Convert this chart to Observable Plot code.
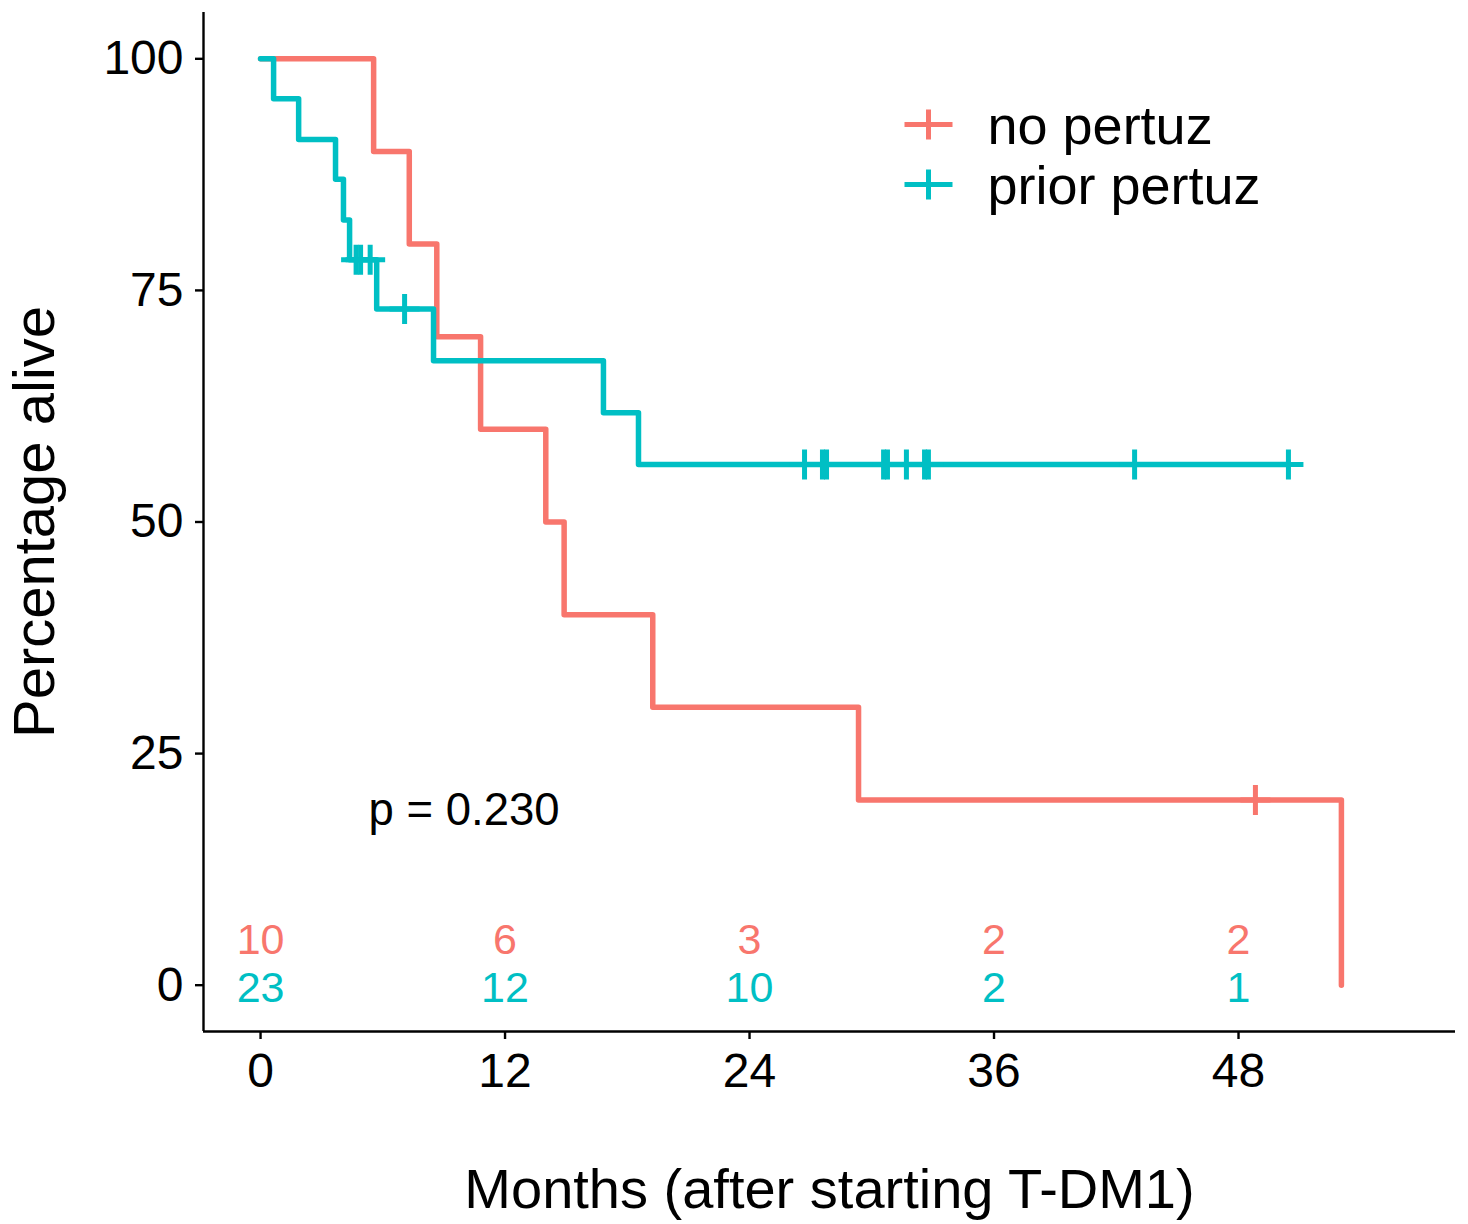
<!DOCTYPE html>
<html>
<head>
<meta charset="utf-8">
<script src="https://cdn.jsdelivr.net/npm/d3@7"></script>
<script src="https://cdn.jsdelivr.net/npm/@observablehq/plot@0.6"></script>
<style>
  html, body { margin: 0; padding: 0; background: #fff; }
  #chart { width: 1468px; height: 1224px; }
</style>
</head>
<body>
<div id="chart"></div>
<script>
// ---- data ----
const groups = ["no pertuz", "prior pertuz"];
const colors = ["#F8766D", "#00BFC4"];

// Kaplan–Meier step points (months, percentage alive)
const noTimes  = [0, 5.55, 7.3, 8.65, 10.8, 14.0, 14.9, 19.25, 29.35, 53.05];
const noSurv   = [100, 90, 80, 70, 60, 50, 40, 30, 20, 0];
const priorTimes = [0, 0.64, 1.87, 3.68, 4.07, 4.37, 5.7, 8.49, 16.83, 18.55, 50.45];
const priorSurv  = [100, 95.7, 91.3, 87.0, 82.6, 78.3, 73.0, 67.4, 61.8, 56.2, 56.2];

// censoring marks
const noCensorTimes = [48.83];
const noCensorSurv  = [20];
const priorCensorTimes = [4.69, 4.91, 5.38, 7.07, 26.7, 27.58, 27.78, 30.58, 30.77, 31.7, 32.59, 32.78, 42.9, 50.45];
const priorCensorSurv  = [78.3, 78.3, 78.3, 73.0, 56.2, 56.2, 56.2, 56.2, 56.2, 56.2, 56.2, 56.2, 56.2, 56.2];

// numbers at risk
const riskTimes = [0, 12, 24, 36, 48];
const noRisk    = [10, 6, 3, 2, 2];
const priorRisk = [23, 12, 10, 2, 1];

const xTicks = [0, 12, 24, 36, 48];
const yTicks = [0, 25, 50, 75, 100];
const pLabel = "p = 0.230";
const xTitle = "Months (after starting T-DM1)";
const yTitle = "Percentage alive";

// ---- tables built from the arrays ----
const noLine = noTimes.map((t, i) => ({t, s: noSurv[i]}));
const priorLine = priorTimes.map((t, i) => ({t, s: priorSurv[i]}));
const noCens = noCensorTimes.map((t, i) => ({t, s: noCensorSurv[i]}));
const priorCens = priorCensorTimes.map((t, i) => ({t, s: priorCensorSurv[i]}));
const noRiskRows = riskTimes.map((t, i) => ({t, n: noRisk[i]}));
const priorRiskRows = riskTimes.map((t, i) => ({t, n: priorRisk[i]}));

const cross = {
  draw(ctx, size) {
    const h = Math.sqrt(size / Math.PI);
    ctx.moveTo(-h, 0); ctx.lineTo(h, 0);
    ctx.moveTo(0, -h); ctx.lineTo(0, h);
  }
};
const legendCross = {
  draw(ctx, size) {
    const h = Math.sqrt(size / Math.PI);
    ctx.moveTo(-h * 1.6, 0); ctx.lineTo(h * 1.6, 0);
    ctx.moveTo(0, -h); ctx.lineTo(0, h);
  }
};

const font = "'Liberation Sans', Arial, Helvetica, sans-serif";
const lw = 5.5;
const cw = 5;

const chart = Plot.plot({
  width: 1468,
  height: 1224,
  marginLeft: 203,
  marginRight: 13,
  marginTop: 12,
  marginBottom: 193,
  style: {fontFamily: font, background: "#fff", color: "#000"},
  x: {domain: [-2.8, 58.65]},
  y: {domain: [-5, 105]},
  marks: [
    // axis lines
    Plot.ruleY([-5], {stroke: "#000", strokeWidth: 2.4}),
    Plot.ruleX([-2.8], {stroke: "#000", strokeWidth: 2.4}),
    Plot.axisX({ticks: xTicks, tickSize: 8, tickPadding: 13, fontSize: 48, label: null, strokeWidth: 2.4, stroke: "#000", fill: "#000"}),
    Plot.axisY({ticks: yTicks, tickSize: 8, tickPadding: 12, fontSize: 48, label: null, strokeWidth: 2.4, stroke: "#000", fill: "#000"}),
    // survival curves
    Plot.line(noLine, {x: "t", y: "s", curve: "step-after", stroke: colors[0], strokeWidth: lw}),
    Plot.line(priorLine, {x: "t", y: "s", curve: "step-after", stroke: colors[1], strokeWidth: lw}),
    // censor marks
    Plot.dot(noCens, {x: "t", y: "s", symbol: cross, r: 15, stroke: colors[0], fill: "none", strokeWidth: cw}),
    Plot.dot(priorCens, {x: "t", y: "s", symbol: cross, r: 15, stroke: colors[1], fill: "none", strokeWidth: cw}),
    // numbers at risk
    Plot.text(noRiskRows, {x: "t", y: () => 0, text: "n", dy: -45, fill: colors[0], fontSize: 43, textAnchor: "middle"}),
    Plot.text(priorRiskRows, {x: "t", y: () => 0, text: "n", dy: 3, fill: colors[1], fontSize: 43, textAnchor: "middle"}),
    // p value
    Plot.text([pLabel], {x: () => 5.3, y: () => 18.9, text: d => d, textAnchor: "start", fontSize: 45.5, fill: "#000"}),
    // axis titles
    Plot.text([xTitle], {frameAnchor: "bottom", text: d => d, dy: 176, fontSize: 56, fill: "#000", textAnchor: "middle"}),
    Plot.text([yTitle], {frameAnchor: "left", text: d => d, dx: -168, rotate: -90, fontSize: 58, fill: "#000", textAnchor: "middle"}),
    // legend
    Plot.dot([groups[0]], {frameAnchor: "top-left", dx: 725, dy: 112, symbol: legendCross, r: 15, stroke: colors[0], fill: "none", strokeWidth: cw}),
    Plot.dot([groups[1]], {frameAnchor: "top-left", dx: 725, dy: 172, symbol: legendCross, r: 15, stroke: colors[1], fill: "none", strokeWidth: cw}),
    Plot.text([groups[0]], {frameAnchor: "top-left", text: d => d, dx: 784, dy: 93, fontSize: 54, fill: "#000", textAnchor: "start"}),
    Plot.text([groups[1]], {frameAnchor: "top-left", text: d => d, dx: 784, dy: 153, fontSize: 54, fill: "#000", textAnchor: "start"})
  ]
});
document.getElementById("chart").appendChild(chart);
</script>
</body>
</html>
